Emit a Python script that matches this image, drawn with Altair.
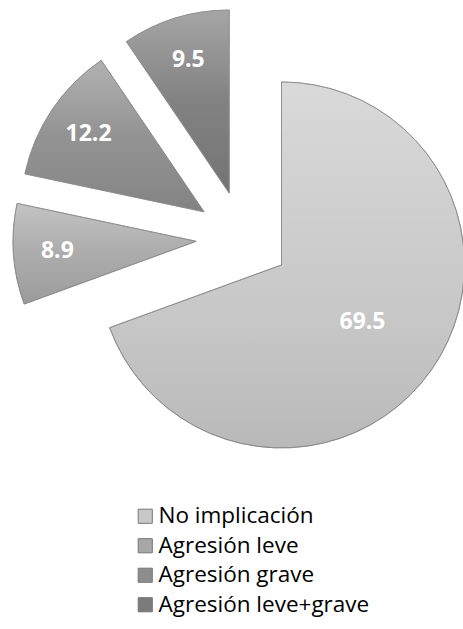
import math
import altair as alt
import pandas as pd

# ---- data ----
categories = ["No implicación", "Agresión leve", "Agresión grave", "Agresión leve+grave"]
values = [69.5, 8.9, 12.2, 9.5]
colors = ["#c8c8c8", "#a7a7a7", "#8d8d8d", "#7b7b7b"]

df = pd.DataFrame({"cat": categories, "value": values, "order": list(range(len(values)))})

# ---- layout (style) ----
W, H = 463, 629
R = 183          # pie radius in px
CX, CY = 243, 238  # pie centre in px
EXPLODE = 47 / R   # explosion as share of radius

xscale = alt.Scale(domain=[-CX / R, (W - CX) / R], nice=False, zero=False)
yscale = alt.Scale(domain=[-(H - CY) / R, CY / R], nice=False, zero=False)

base = (
    alt.Chart(df)
    .transform_joinaggregate(total="sum(value)")
    .transform_window(cum="sum(value)", sort=[alt.SortField("order")], frame=[None, 0])
    .transform_calculate(
        start="(datum.cum - datum.value) / datum.total",
        end="datum.cum / datum.total",
        mid="2 * PI * (datum.cum - datum.value / 2) / datum.total",
    )
    .transform_calculate(
        ax=f"{EXPLODE} * sin(datum.mid)",
        ay=f"{EXPLODE} * cos(datum.mid)",
        lr="datum.value > 50 ? 0.54 : 0.76",
    )
    .transform_calculate(
        lx="datum.ax + datum.lr * sin(datum.mid)",
        ly="datum.ay + datum.lr * cos(datum.mid)",
    )
)

pos = dict(
    x=alt.X("ax:Q", scale=xscale, axis=None),
    y=alt.Y("ay:Q", scale=yscale, axis=None),
    theta=alt.Theta("start:Q", scale=alt.Scale(domain=[0, 1], range=[0, 2 * math.pi]), stack=None),
    theta2="end:Q",
)

arcs = base.mark_arc(radius=R, stroke="#8a8a8a", strokeWidth=0.8).encode(
    color=alt.Color(
        "cat:N",
        scale=alt.Scale(domain=categories, range=colors),
        legend=alt.Legend(
            title=None,
            orient="none",
            legendX=134,
            legendY=505,
            symbolType="square",
            symbolSize=200,
            symbolStrokeColor="#777777",
            symbolStrokeWidth=1,
            labelFont="Open Sans",
            labelFontSize=22.5,
            labelColor="#000000",
            labelOffset=2,
            labelLimit=400,
            rowPadding=6.5,
        ),
    ),
    **pos,
)

shade = base.mark_arc(
    radius=R,
    fill=alt.Gradient(
        gradient="linear",
        x1=0, y1=0, x2=0, y2=1,
        stops=[
            alt.GradientStop(color="rgba(255,255,255,0.32)", offset=0),
            alt.GradientStop(color="rgba(255,255,255,0.05)", offset=0.5),
            alt.GradientStop(color="rgba(0,0,0,0.08)", offset=1),
        ],
    ),
    stroke="#8a8a8a",
    strokeWidth=0.8,
).encode(**pos)

labels = base.mark_text(
    font="Open Sans", fontWeight="bold", fontSize=23, color="white"
).encode(
    x=alt.X("lx:Q", scale=xscale, axis=None),
    y=alt.Y("ly:Q", scale=yscale, axis=None),
    text=alt.Text("value:Q", format=".1f"),
)

chart = (
    alt.layer(arcs, shade, labels)
    .properties(width=W, height=H, padding=0, autosize=alt.AutoSizeParams(type="none"), background="white")
    .configure_view(stroke=None)
)

chart.save("out.html", embed_options={"renderer": "svg", "actions": False})
